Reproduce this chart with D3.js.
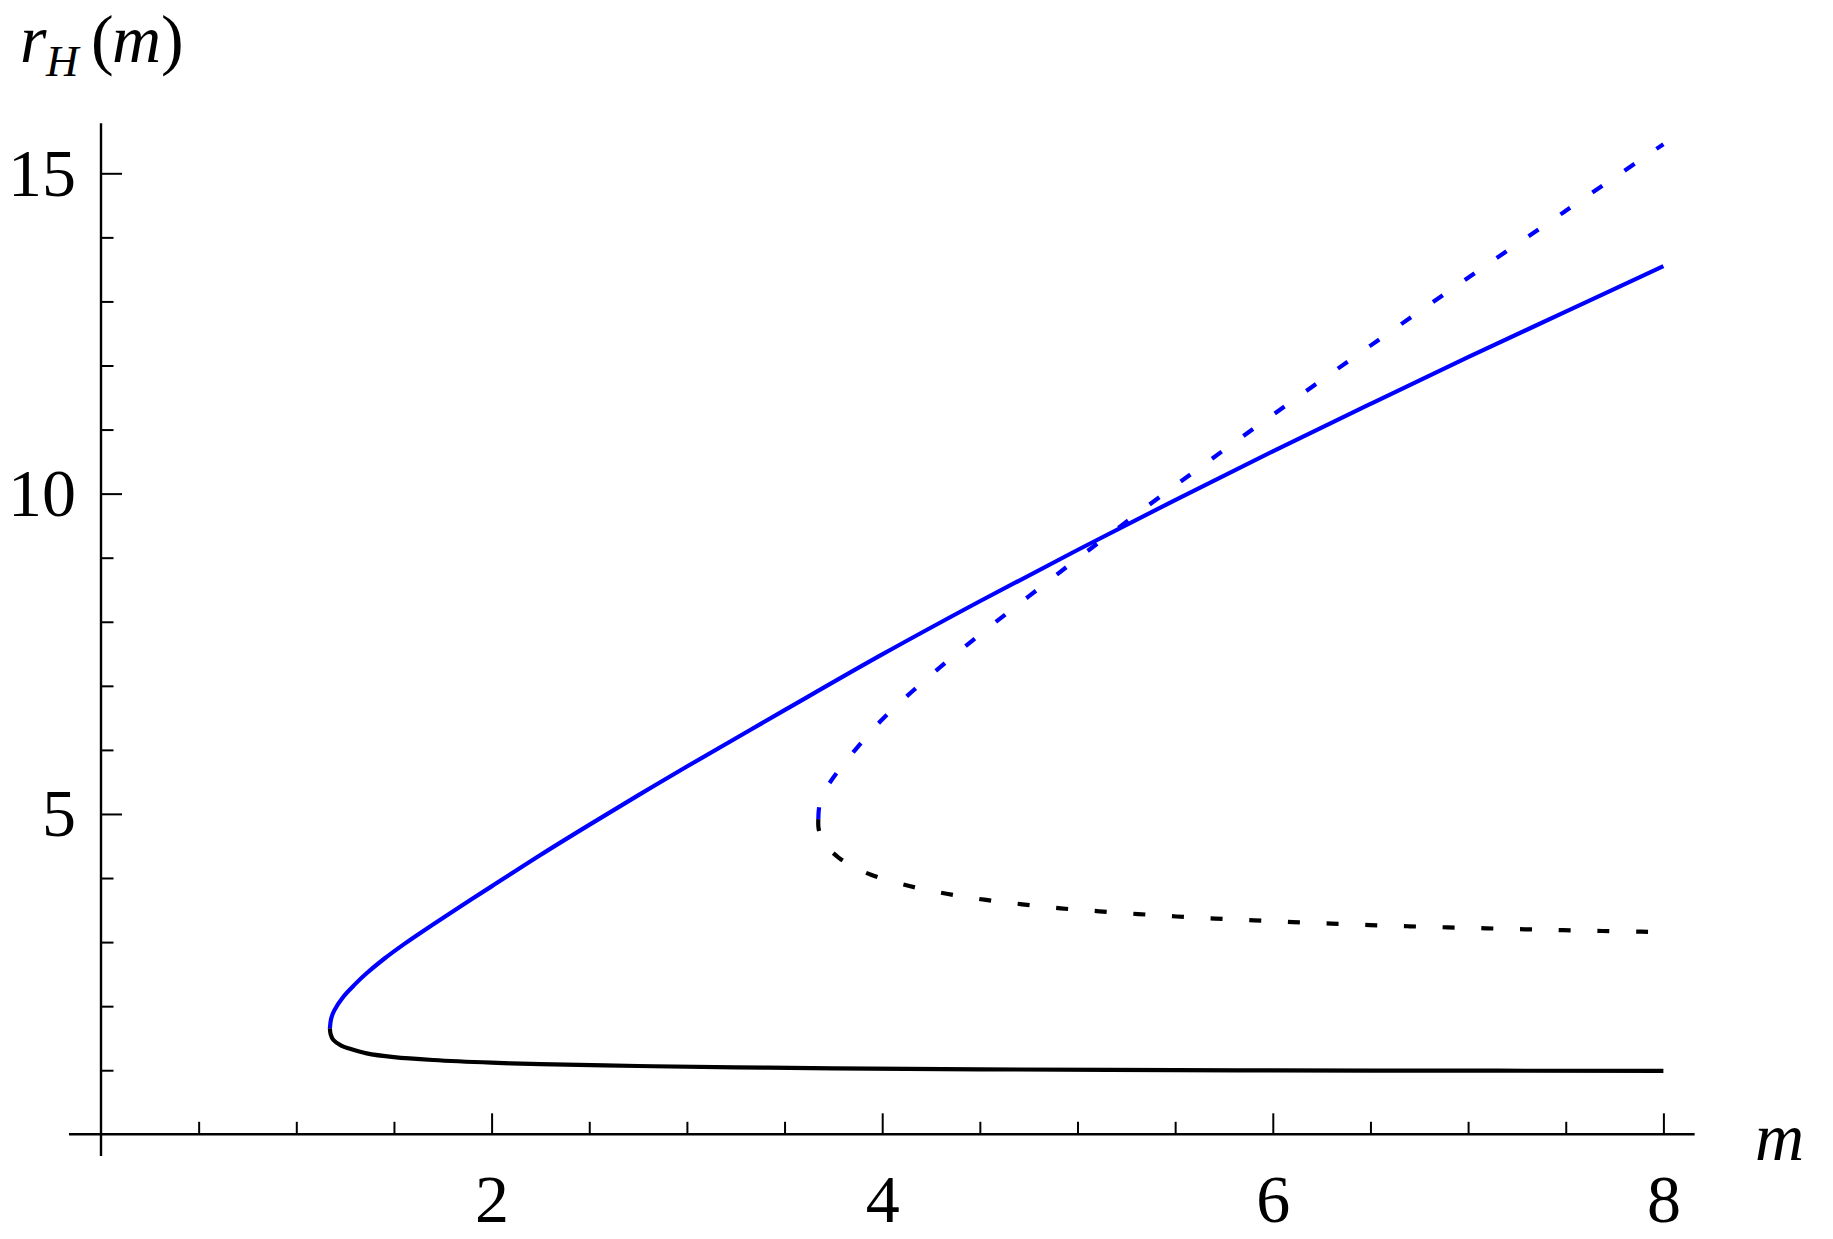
<!DOCTYPE html>
<html>
<head>
<meta charset="utf-8">
<script src="https://cdn.jsdelivr.net/npm/d3@7"></script>
<style>
  body { margin: 0; background: #fff; }
  svg text { font-family: "Liberation Serif", "Times New Roman", serif; }
</style>
</head>
<body>
<div id="chart"></div>
<script>
// values: horizon radius r vs mass m, four branches
// each branch starts at its turning point

// upper small-m branch (solid blue)
var blueSolidM = [1.172, 1.178, 1.194, 1.241, 1.30, 1.36, 1.45, 1.55, 1.70, 1.85, 2.0, 2.25, 2.5, 2.75, 3.0, 3.5, 4.0, 4.5, 5.0, 5.5, 6.0, 6.5, 7.0, 7.5, 8.0];
var blueSolidR = [1.655, 1.80, 1.93, 2.148, 2.34, 2.513, 2.74, 2.965, 3.275, 3.575, 3.87, 4.36, 4.83, 5.29, 5.74, 6.62, 7.49, 8.32, 9.12, 9.90, 10.66, 11.40, 12.13, 12.84, 13.55];

// lower small-m branch (solid black)
var blackSolidM = [1.172, 1.176, 1.19, 1.23, 1.275, 1.36, 1.50, 1.70, 2.0, 2.25, 2.75, 3.25, 3.75, 4.5, 5.5, 6.5, 8.0];
var blackSolidR = [1.655, 1.56, 1.472, 1.385, 1.335, 1.264, 1.205, 1.160, 1.118, 1.095, 1.066, 1.045, 1.030, 1.014, 1.002, 0.995, 0.99];

// upper large-m branch (dashed blue)
var blueDashM = [3.673, 3.675, 3.682, 3.70, 3.741, 3.80, 3.861, 4.0, 4.25, 4.5, 4.75, 5.0, 5.5, 6.0, 6.5, 7.0, 7.5, 8.0];
var blueDashR = [4.92, 5.05, 5.18, 5.34, 5.53, 5.77, 5.998, 6.475, 7.17, 7.80, 8.395, 8.985, 10.125, 11.23, 12.31, 13.37, 14.415, 15.455];

// lower large-m branch (dashed black)
var blackDashM = [3.673, 3.674, 3.69, 3.72, 3.775, 3.85, 3.946, 4.139, 4.330, 4.523, 4.717, 4.914, 5.111, 5.310, 5.507, 5.706, 5.906, 6.104, 6.300, 6.498, 6.696, 6.894, 7.093, 7.291, 7.487, 7.687, 7.885, 8.0];
var blackDashR = [4.92, 4.78, 4.62, 4.48, 4.323, 4.18, 4.047, 3.875, 3.755, 3.662, 3.590, 3.527, 3.481, 3.438, 3.400, 3.367, 3.339, 3.313, 3.288, 3.266, 3.247, 3.230, 3.215, 3.200, 3.186, 3.173, 3.162, 3.155];

var xMajorTicks = [2, 4, 6, 8];
var yMajorTicks = [5, 10, 15];
var xMinorTicks = d3.range(0.5, 8, 0.5).filter(d => d % 2 !== 0);
var yMinorTicks = d3.range(1, 16, 1).filter(d => d % 5 !== 0);

const width = 1833, height = 1239;

const svg = d3.select("#chart")
    .append("svg")
        .attr("width", width)
        .attr("height", height)
        .style("background", "#fff");

const x = d3.scaleLinear().domain([0, 8]).range([101, 1663.4]);
const y = d3.scaleLinear().domain([0, 15]).range([1134.3, 173.3]);

// axes lines (run a bit past the data like Mathematica does)
svg.append("line")
    .attr("x1", x(-0.164)).attr("x2", x(8.16))
    .attr("y1", y(0)).attr("y2", y(0))
    .attr("stroke", "#000").attr("stroke-width", 2.4);
svg.append("line")
    .attr("x1", x(0)).attr("x2", x(0))
    .attr("y1", y(-0.34)).attr("y2", y(15.78))
    .attr("stroke", "#000").attr("stroke-width", 2.4);

// x ticks
const xMajor = svg.append("g")
    .attr("transform", `translate(0, ${y(0)})`)
    .call(d3.axisBottom(x).tickValues(xMajorTicks).tickSize(-21).tickPadding(39).tickFormat(d3.format("d")));
const xMinor = svg.append("g")
    .attr("transform", `translate(0, ${y(0)})`)
    .call(d3.axisBottom(x).tickValues(xMinorTicks).tickSize(-12.5).tickFormat(""));

// y ticks
const yMajor = svg.append("g")
    .attr("transform", `translate(${x(0)}, 0)`)
    .call(d3.axisLeft(y).tickValues(yMajorTicks).tickSize(-21).tickPadding(25).tickFormat(d3.format("d")));
const yMinor = svg.append("g")
    .attr("transform", `translate(${x(0)}, 0)`)
    .call(d3.axisLeft(y).tickValues(yMinorTicks).tickSize(-12.5).tickFormat(""));

[xMajor, xMinor, yMajor, yMinor].forEach(g => {
    g.select(".domain").remove();
    g.selectAll(".tick line").attr("stroke", "#000").attr("stroke-width", 2);
    g.selectAll(".tick text")
        .attr("fill", "#000")
        .style("font-size", "68px")
        .style("font-family", '"Liberation Serif", "Times New Roman", serif');
});

// curves
const line = d3.line()
    .x(d => x(d[0]))
    .y(d => y(d[1]))
    .curve(d3.curveCatmullRom.alpha(0.5));

function zipPts(ms, rs) {
    return ms.map((m, i) => [m, rs[i]]);
}

const curves = [
    {pts: zipPts(blackSolidM, blackSolidR), color: "#000", dash: null},
    {pts: zipPts(blueSolidM, blueSolidR), color: "#0000ff", dash: null},
    {pts: zipPts(blackDashM, blackDashR), color: "#000", dash: "12,26.7"},
    {pts: zipPts(blueDashM, blueDashR), color: "#0000ff", dash: "12,26.7"}
];

curves.forEach(c => {
    svg.append("path")
        .datum(c.pts)
        .attr("d", line)
        .attr("fill", "none")
        .attr("stroke", c.color)
        .attr("stroke-width", 4.2)
        .attr("stroke-dasharray", c.dash);
});

// axis labels
const title = svg.append("text")
    .attr("fill", "#000")
    .style("font-size", "68px");
title.append("tspan").attr("x", 20).attr("y", 62).style("font-style", "italic").text("r");
title.append("tspan").attr("x", 46).attr("y", 76).style("font-style", "italic").style("font-size", "45px").text("H");
title.append("tspan").attr("x", 91).attr("y", 62).text("(");
title.append("tspan").attr("x", 112).attr("y", 62).style("font-style", "italic").text("m");
title.append("tspan").attr("x", 161).attr("y", 62).text(")");

svg.append("text")
    .attr("x", 1755)
    .attr("y", 1160)
    .attr("fill", "#000")
    .style("font-size", "68px")
    .style("font-style", "italic")
    .text("m");
</script>
</body>
</html>
